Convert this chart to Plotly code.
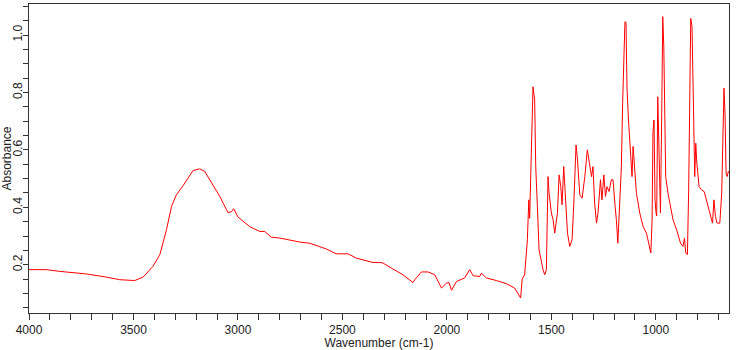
import plotly.graph_objects as go

# Wavenumber (cm-1) and absorbance
wavenumber = [
    4000, 3917, 3853, 3725, 3630, 3566, 3494, 3454, 3407, 3374, 3342, 3318, 3295, 3263,
    3215, 3183, 3159, 3119, 3087, 3048, 3031, 3020, 3000, 2944, 2896, 2872, 2840, 2800,
    2704, 2657, 2577, 2529, 2473, 2433, 2354, 2321, 2306, 2258, 2210, 2162, 2154, 2122,
    2090, 2058, 2026, 2002, 1990, 1978, 1954, 1915, 1891, 1875, 1843, 1835, 1811, 1763,
    1715, 1676, 1655, 1647, 1640, 1628, 1615, 1608, 1604, 1596, 1588, 1580, 1575, 1567,
    1559, 1540, 1532, 1524, 1516, 1511, 1500, 1492, 1484, 1471, 1463, 1455, 1449, 1441,
    1433, 1423, 1412, 1401, 1392, 1382, 1375, 1364, 1353, 1340, 1328, 1317, 1308, 1301,
    1293, 1284, 1277, 1265, 1258, 1249, 1241, 1234, 1224, 1213, 1205, 1195, 1189, 1182,
    1176, 1170, 1165, 1159, 1154, 1148, 1143, 1138, 1131, 1122, 1114, 1109, 1103, 1093,
    1077, 1061, 1045, 1033, 1024, 1018, 1014, 1009, 1004, 999, 996, 991, 986, 978,
    972, 967, 962, 958, 953, 942, 930, 918, 901, 882, 870, 863, 857, 849,
    843, 838, 833, 827, 823, 819, 814, 809, 804, 793, 782, 769, 758, 742,
    729, 722, 715, 707, 694, 685, 678, 674, 669, 664, 659, 653, 650,
]
absorbance = [
    0.183, 0.183, 0.177, 0.168, 0.157, 0.148, 0.145, 0.157, 0.194, 0.235, 0.322, 0.403, 0.443, 0.475,
    0.528, 0.534, 0.525, 0.478, 0.438, 0.382, 0.385, 0.395, 0.366, 0.333, 0.316, 0.316, 0.296, 0.293,
    0.279, 0.275, 0.255, 0.238, 0.238, 0.223, 0.208, 0.208, 0.206, 0.185, 0.165, 0.138, 0.148, 0.175,
    0.175, 0.165, 0.119, 0.136, 0.138, 0.111, 0.142, 0.154, 0.183, 0.162, 0.159, 0.171, 0.154, 0.145,
    0.134, 0.119, 0.096, 0.084, 0.150, 0.165, 0.287, 0.426, 0.362, 0.554, 0.820, 0.774, 0.542, 0.403,
    0.252, 0.183, 0.165, 0.183, 0.507, 0.449, 0.380, 0.357, 0.310, 0.380, 0.513, 0.472, 0.409, 0.542,
    0.415, 0.310, 0.264, 0.287, 0.426, 0.617, 0.565, 0.443, 0.432, 0.507, 0.600, 0.554, 0.507, 0.542,
    0.415, 0.345, 0.380, 0.496, 0.426, 0.513, 0.438, 0.472, 0.455, 0.496, 0.496, 0.403, 0.357, 0.275,
    0.380, 0.426, 0.542, 0.762, 0.913, 1.046, 1.044, 0.813, 0.704, 0.577, 0.507, 0.612, 0.542, 0.449,
    0.380, 0.333, 0.310, 0.264, 0.241, 0.357, 0.658, 0.704, 0.426, 0.380, 0.370, 0.785, 0.635, 0.380,
    0.728, 1.064, 0.959, 0.690, 0.507, 0.449, 0.403, 0.357, 0.322, 0.275, 0.264, 0.293, 0.241, 0.235,
    0.461, 0.762, 1.058, 1.029, 0.878, 0.600, 0.507, 0.623, 0.554, 0.472, 0.461, 0.455, 0.426, 0.380,
    0.345, 0.426, 0.368, 0.345, 0.345, 0.449, 0.774, 0.815, 0.725, 0.519, 0.507, 0.525, 0.520,
]

x_range = [4000, 650]
y_range = [0.032, 1.108]

font_family = "Liberation Sans, Arial, sans-serif"

fig = go.Figure()
fig.add_trace(go.Scatter(
    x=wavenumber, y=absorbance, mode="lines",
    line=dict(color="#FF0000", width=1),
    showlegend=False, hoverinfo="skip",
))

fig.update_layout(
    width=750, height=350,
    margin=dict(l=29, r=21, t=4, b=37, autoexpand=False),
    paper_bgcolor="white", plot_bgcolor="white",
    font=dict(family=font_family, size=12, color="#222222"),
)

fig.update_xaxes(
    range=x_range, autorange=False,
    tick0=0, dtick=500, ticks="outside", ticklen=6, tickwidth=1, tickcolor="#333333",
    minor=dict(dtick=100, ticks="outside", ticklen=6, tickwidth=1, tickcolor="#333333", showgrid=False),
    showline=True, linecolor="#333333", linewidth=1, mirror=True,
    showgrid=False, zeroline=False, automargin=False,
    tickfont=dict(size=12, color="#222222"),
    title=dict(text="Wavenumber (cm-1)", font=dict(size=12, color="#222222"), standoff=2),
)
fig.update_yaxes(
    range=y_range, autorange=False,
    tick0=0, dtick=0.2, tickformat=".1f", tickangle=-90,
    ticks="outside", ticklen=5, tickwidth=1, tickcolor="#333333",
    minor=dict(dtick=0.05, ticks="outside", ticklen=5, tickwidth=1, tickcolor="#333333", showgrid=False),
    showline=True, linecolor="#333333", linewidth=1, mirror=True,
    showgrid=False, zeroline=False, automargin=False,
    ticklabelstandoff=-4,
    tickfont=dict(size=12, color="#222222"),
    title=dict(text="Absorbance", font=dict(size=12, color="#222222"), standoff=0),
)

fig.write_html(
    "out.html",
    config={"displayModeBar": False, "staticPlot": True},
    post_script="document.body.style.margin='0';document.body.style.padding='0';",
)
